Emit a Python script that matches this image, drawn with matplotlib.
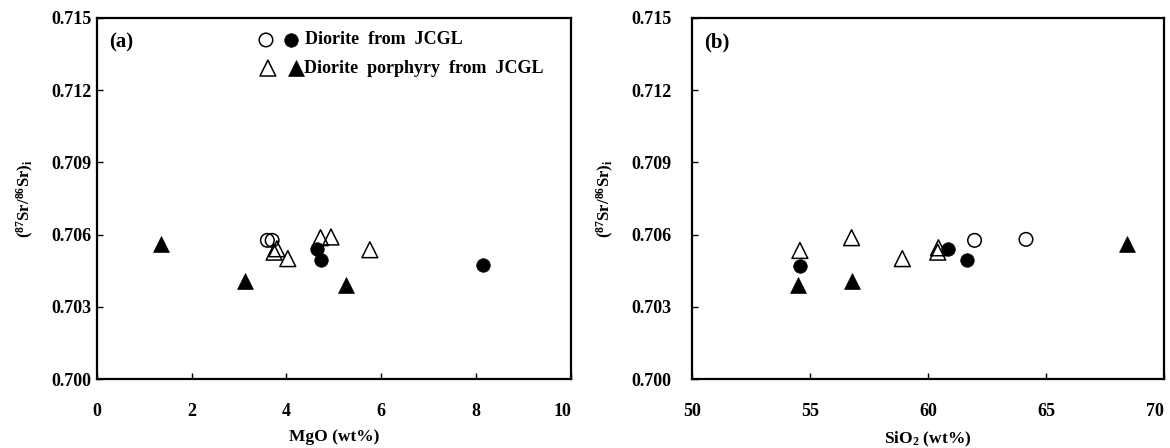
import matplotlib
matplotlib.use("Agg")
import matplotlib.pyplot as plt

plt.rcParams['font.family'] = ['Liberation Serif', 'DejaVu Serif']
plt.rcParams['mathtext.default'] = 'regular'

# ---- Data: panel (a) MgO vs (87Sr/86Sr)i ----
dio_open_mgo = [3.60, 3.70]
dio_open_sr_a = [0.70576, 0.70576]
dio_fill_mgo = [4.65, 4.72, 8.14]
dio_fill_sr_a = [0.70538, 0.70493, 0.70472]
por_open_mgo = [3.74, 3.80, 4.03, 4.72, 4.94, 5.76]
por_open_sr_a = [0.70527, 0.70541, 0.70500, 0.70587, 0.70590, 0.70537]
por_fill_mgo = [1.35, 3.13, 5.25]
por_fill_sr_a = [0.70562, 0.70407, 0.70389]

# ---- Data: panel (b) SiO2 vs (87Sr/86Sr)i ----
dio_open_sio2 = [61.97, 64.15]
dio_open_sr_b = [0.70576, 0.70580]
dio_fill_sio2 = [54.57, 60.84, 61.63]
dio_fill_sr_b = [0.70469, 0.70541, 0.70493]
por_open_sio2 = [54.57, 56.76, 58.91, 60.41, 60.44]
por_open_sr_b = [0.70534, 0.70587, 0.70500, 0.70527, 0.70545]
por_fill_sio2 = [54.49, 56.76, 68.42]
por_fill_sr_b = [0.70389, 0.70409, 0.70562]

y_ticks = [0.700, 0.703, 0.706, 0.709, 0.712, 0.715]
y_ticklabels = ['0.700', '0.703', '0.706', '0.709', '0.712', '0.715']
xa_ticks = [0, 2, 4, 6, 8, 10]
xb_ticks = [50, 55, 60, 65, 70]

legend_labels = ['Diorite  from  JCGL', 'Diorite  porphyry  from  JCGL']

fig = plt.figure(figsize=(11.70, 4.48), dpi=100)
ax_a = fig.add_axes([0.0826, 0.154, 0.4054, 0.806])
ax_b = fig.add_axes([0.5915, 0.154, 0.4034, 0.806])

circ_s = 95
tri_s = 130
lw_open = 1.1


def draw(ax, d_o, d_f, p_o, p_f):
    ax.scatter(d_o[0], d_o[1], s=circ_s, marker='o', facecolors='none',
               edgecolors='black', linewidths=lw_open, zorder=3)
    ax.scatter(d_f[0], d_f[1], s=circ_s, marker='o', facecolors='black',
               edgecolors='black', linewidths=0.5, zorder=3)
    ax.scatter(p_o[0], p_o[1], s=tri_s, marker='^', facecolors='none',
               edgecolors='black', linewidths=lw_open, zorder=3)
    ax.scatter(p_f[0], p_f[1], s=tri_s, marker='^', facecolors='black',
               edgecolors='black', linewidths=0.5, zorder=3)


draw(ax_a, (dio_open_mgo, dio_open_sr_a), (dio_fill_mgo, dio_fill_sr_a),
     (por_open_mgo, por_open_sr_a), (por_fill_mgo, por_fill_sr_a))
draw(ax_b, (dio_open_sio2, dio_open_sr_b), (dio_fill_sio2, dio_fill_sr_b),
     (por_open_sio2, por_open_sr_b), (por_fill_sio2, por_fill_sr_b))

ylab = '($^{87}$Sr/$^{86}$Sr)$_{i}$'

for ax, xt, xl, ypad, panel in [
        (ax_a, xa_ticks, 'MgO (wt%)', 3.5, '(a)'),
        (ax_b, xb_ticks, 'SiO$_2$ (wt%)', 15, '(b)')]:
    ax.set_xlim(xt[0], xt[-1])
    ax.set_ylim(0.700, 0.715)
    ax.set_xticks(xt)
    labels = ax.set_xticklabels([str(v) for v in xt], fontsize=13,
                                fontweight='bold')
    labels[-1].set_horizontalalignment('right')
    ax.set_yticks(y_ticks)
    ax.set_yticklabels(y_ticklabels, fontsize=13, fontweight='bold')
    ax.tick_params(axis='x', direction='in', length=4, width=1, pad=17,
                   top=False)
    ax.tick_params(axis='y', direction='in', length=4, width=1, pad=ypad,
                   right=False)
    for sp in ax.spines.values():
        sp.set_linewidth(1.6)
    ax.set_xlabel(xl, fontsize=12.5, fontweight='bold', labelpad=7)
    ax.set_ylabel(ylab, fontsize=12, fontweight='bold', labelpad=11)
    ax.text(0.026, 0.931, panel, transform=ax.transAxes, fontsize=15,
            fontweight='bold', va='center', ha='left')

# legend in panel (a)
T = ax_a.transAxes
ax_a.scatter([0.357], [0.939], s=circ_s, marker='o', facecolors='none',
             edgecolors='black', linewidths=lw_open, transform=T, clip_on=False)
ax_a.scatter([0.410], [0.939], s=circ_s, marker='o', facecolors='black',
             edgecolors='black', linewidths=0.5, transform=T, clip_on=False)
ax_a.scatter([0.361], [0.861], s=tri_s, marker='^', facecolors='none',
             edgecolors='black', linewidths=lw_open, transform=T, clip_on=False)
ax_a.scatter([0.420], [0.861], s=tri_s, marker='^', facecolors='black',
             edgecolors='black', linewidths=0.5, transform=T, clip_on=False)
ax_a.text(0.439, 0.939, legend_labels[0], transform=T, fontsize=13,
          fontweight='bold', va='center', ha='left')
ax_a.text(0.437, 0.861, legend_labels[1], transform=T, fontsize=13,
          fontweight='bold', va='center', ha='left')

fig.savefig('out.png', dpi=100)
